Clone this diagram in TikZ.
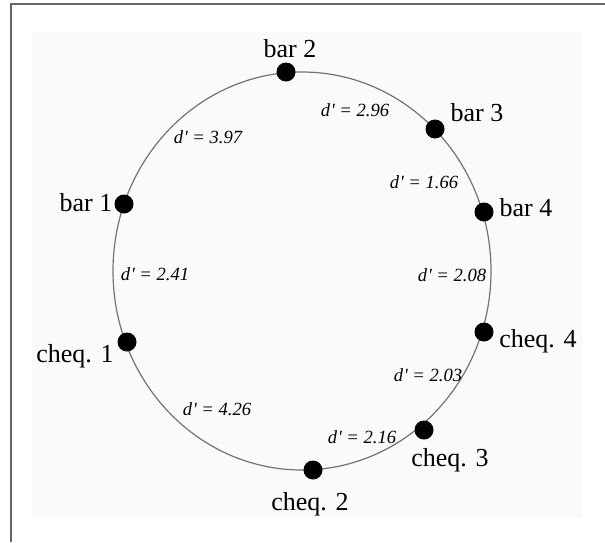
\documentclass[tikz,border=0pt]{standalone}
\usepackage{fontspec}
\setmainfont{Liberation Serif}
\usepackage{tikz}
\tikzstyle{stim} = [circle, fill=black, inner sep=0pt, minimum size=9.5pt]
\tikzstyle{stimname} = [anchor=base, inner sep=0pt, font=\fontsize{13}{15}\selectfont]
\tikzstyle{dist} = [inner sep=0pt, font=\fontsize{9.3}{11}\selectfont\itshape]
\newcommand{\dpr}[1]{d\kern0.3pt\textquotesingle{} = #1}

\begin{document}
\begin{tikzpicture}[x=0.5pt, y=-0.5pt]

\useasboundingbox (0,0) rectangle (605,542);
\fill[black!2] (32,32) rectangle (582,517);
\draw[black!60, line width=0.8pt] (605,4) -- (11,4) -- (11,542);

% the ring
\draw[black!55, line width=0.6pt] (302,271) ellipse [x radius=189, y radius=199];

% stimuli
\node (bar1) [stim] at (124,204) {};
\node (bar2) [stim] at (286,72) {};
\node (bar3) [stim] at (435,129) {};
\node (bar4) [stim] at (484,212) {};
\node (cheq4) [stim] at (484,332) {};
\node (cheq3) [stim] at (424,430) {};
\node (cheq2) [stim] at (313,470) {};
\node (cheq1) [stim] at (127,342) {};

\node (bar1-name) [stimname] at (86,211) {bar 1};
\node (bar2-name) [stimname] at (290,57) {bar 2};
\node (bar3-name) [stimname] at (477,121) {bar 3};
\node (bar4-name) [stimname] at (526,216) {bar 4};
\node (cheq4-name) [stimname] at (538,347) {cheq. 4};
\node (cheq3-name) [stimname] at (450,466) {cheq. 3};
\node (cheq2-name) [stimname] at (310,510) {cheq. 2};
\node (cheq1-name) [stimname] at (75,362) {cheq. 1};

% distances between neighbours
\node (d12) [dist] at (208,137) {\dpr{3.97}};
\node (d23) [dist] at (355,110) {\dpr{2.96}};
\node (d34) [dist] at (424,182) {\dpr{1.66}};
\node (d44) [dist] at (452,275) {\dpr{2.08}};
\node (d43) [dist] at (428,375) {\dpr{2.03}};
\node (d32) [dist] at (362,437) {\dpr{2.16}};
\node (d21) [dist] at (217,409) {\dpr{4.26}};
\node (d11) [dist] at (155,274) {\dpr{2.41}};

\end{tikzpicture}
\end{document}
